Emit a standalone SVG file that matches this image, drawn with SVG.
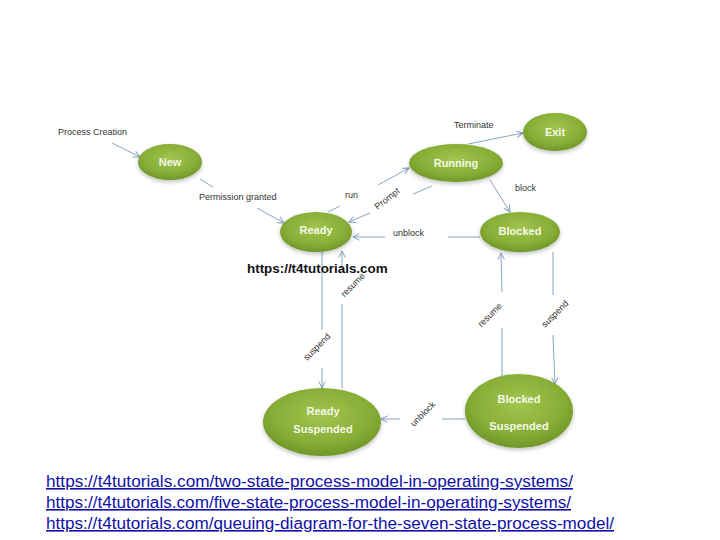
<svg xmlns="http://www.w3.org/2000/svg" width="720" height="540" viewBox="0 0 720 540">
<style>
.st{fill:url(#g);filter:url(#sh)}
.nl{font-family:"Liberation Sans",Arial,sans-serif;font-weight:bold;font-size:11px;fill:#f4f8e8;text-anchor:middle}
.el{font-family:"Liberation Sans",Arial,sans-serif;font-size:9px;fill:#333}
.ln{fill:none;stroke:#7d98bb;stroke-width:0.9}
.ar{marker-end:url(#ah)}
.url{font-family:"Liberation Sans",Arial,sans-serif;font-size:16px;fill:#1010a8;text-decoration:underline}
</style>
<defs>
<radialGradient id="g" cx="50%" cy="40%" r="60%">
<stop offset="0" stop-color="#a2c64e"/>
<stop offset="0.7" stop-color="#86ad35"/>
<stop offset="1" stop-color="#6f962a"/>
</radialGradient>
<filter id="sh" x="-20%" y="-20%" width="140%" height="150%">
<feGaussianBlur in="SourceAlpha" stdDeviation="2"/>
<feOffset dx="0" dy="2"/>
<feComponentTransfer><feFuncA type="linear" slope="0.25"/></feComponentTransfer>
<feMerge><feMergeNode/><feMergeNode in="SourceGraphic"/></feMerge>
</filter>
<marker id="ah" viewBox="0 0 10 10" refX="9" refY="5" markerWidth="8" markerHeight="8" markerUnits="userSpaceOnUse" orient="auto">
<path d="M1,1 L9,5 L1,9" fill="none" stroke="#7d98bb" stroke-width="1.2"/>
</marker>
</defs>
<rect width="720" height="540" fill="#ffffff"/>

<g id="connectors">
<line class="ln ar" x1="112" y1="143" x2="140" y2="157"/>
<line class="ln" x1="200" y1="179" x2="213" y2="187"/>
<line class="ln ar" x1="257" y1="208" x2="284" y2="223"/>
<line class="ln" x1="328" y1="212" x2="340" y2="206"/>
<line class="ln ar" x1="378" y1="185" x2="409" y2="168"/>
<line class="ln" x1="432" y1="186" x2="413" y2="194"/>
<line class="ln ar" x1="370" y1="213" x2="349" y2="222"/>
<line class="ln ar" x1="468" y1="144" x2="523" y2="133"/>
<line class="ln ar" x1="490" y1="180" x2="510" y2="212"/>
<line class="ln" x1="480" y1="237" x2="448" y2="237"/>
<line class="ln ar" x1="385" y1="237" x2="353" y2="237"/>
<line class="ln" x1="322" y1="252" x2="322" y2="330"/>
<line class="ln ar" x1="322" y1="368" x2="322" y2="388"/>
<line class="ln" x1="342" y1="388" x2="342" y2="304"/>
<line class="ln ar" x1="342" y1="270" x2="342" y2="251"/>
<line class="ln" x1="553" y1="252" x2="553" y2="295"/>
<line class="ln ar" x1="553" y1="335" x2="555" y2="384"/>
<line class="ln" x1="502" y1="376" x2="502" y2="328"/>
<line class="ln ar" x1="502" y1="292" x2="501" y2="253"/>
<line class="ln" x1="465" y1="419" x2="442" y2="419"/>
<line class="ln ar" x1="400" y1="419" x2="381" y2="419"/>
</g>

<g id="labels">
<text class="el" x="58" y="135">Process Creation</text>
<text class="el" x="199" y="200">Permission granted</text>
<text class="el" x="345" y="198">run</text>
<text class="el" transform="translate(389,201) rotate(-38)" text-anchor="middle">Prompt</text>
<text class="el" x="454" y="128">Terminate</text>
<text class="el" x="515" y="191">block</text>
<text class="el" x="393" y="236">unblock</text>
<text class="el" transform="translate(319,349) rotate(-45)" text-anchor="middle">suspend</text>
<text class="el" transform="translate(355,287) rotate(-45)" text-anchor="middle">resume</text>
<text class="el" transform="translate(492,317) rotate(-45)" text-anchor="middle">resume</text>
<text class="el" transform="translate(557,316) rotate(-45)" text-anchor="middle">suspend</text>
<text class="el" transform="translate(425,416) rotate(-45)" text-anchor="middle">unblock</text>
</g>

<g id="node-new"><ellipse class="st" cx="170" cy="162" rx="32" ry="18"/><text class="nl" x="170" y="166">New</text></g>
<g id="node-running"><ellipse class="st" cx="456" cy="163" rx="47" ry="19"/><text class="nl" x="456" y="167">Running</text></g>
<g id="node-exit"><ellipse class="st" cx="555" cy="132" rx="32" ry="19"/><text class="nl" x="555" y="136">Exit</text></g>
<g id="node-ready"><ellipse class="st" cx="316" cy="232" rx="36" ry="20"/><text class="nl" x="316" y="234">Ready</text></g>
<g id="node-blocked"><ellipse class="st" cx="520" cy="232" rx="40" ry="20"/><text class="nl" x="520" y="235">Blocked</text></g>
<g id="node-ready-suspended"><ellipse class="st" cx="322" cy="422" rx="59" ry="34"/><text class="nl" x="323" y="415">Ready</text><text class="nl" x="323" y="433">Suspended</text></g>
<g id="node-blocked-suspended"><ellipse class="st" cx="519" cy="411" rx="54" ry="37"/><text class="nl" x="519" y="403">Blocked</text><text class="nl" x="519" y="430">Suspended</text></g>

<text x="247" y="273" font-family="'Liberation Sans',Arial,sans-serif" font-weight="bold" font-size="13.4" fill="#111">https://t4tutorials.com</text>

<g id="links">
<text class="url" x="46" y="487" textLength="527" lengthAdjust="spacingAndGlyphs">https://t4tutorials.com/two-state-process-model-in-operating-systems/</text>
<text class="url" x="46" y="508" textLength="525" lengthAdjust="spacingAndGlyphs">https://t4tutorials.com/five-state-process-model-in-operating-systems/</text>
<text class="url" x="46" y="529" textLength="568" lengthAdjust="spacingAndGlyphs">https://t4tutorials.com/queuing-diagram-for-the-seven-state-process-model/</text>
</g>
</svg>
